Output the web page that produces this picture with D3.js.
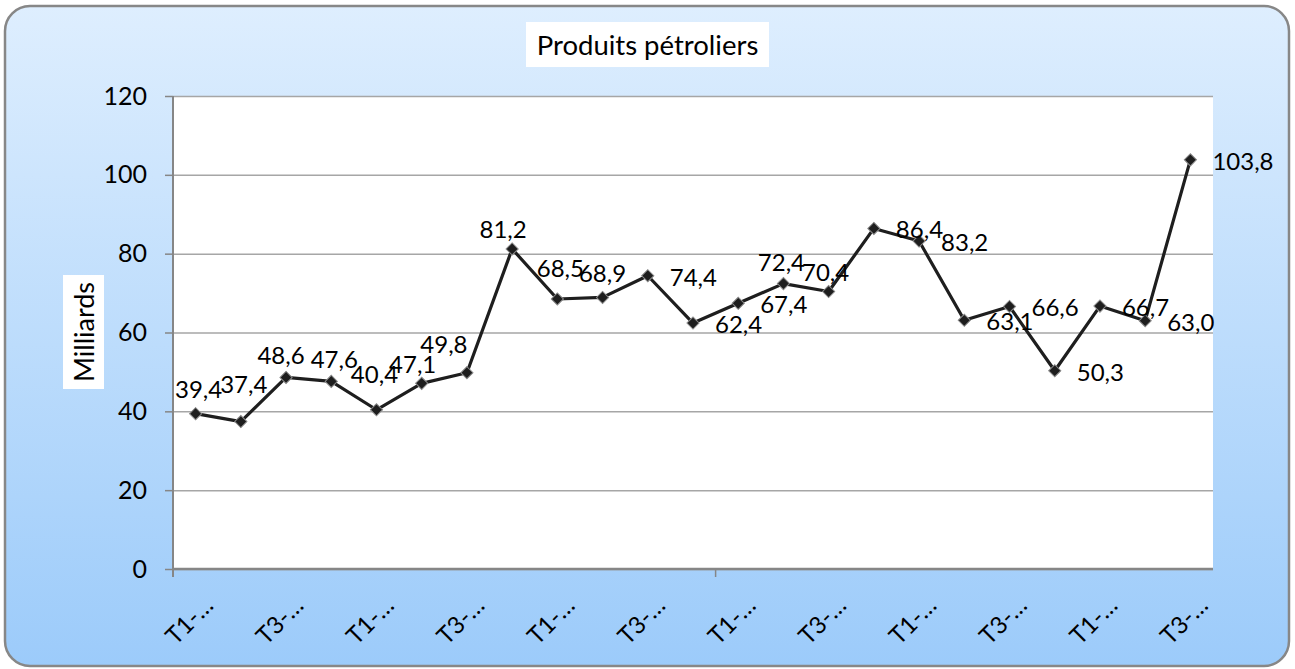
<!DOCTYPE html>
<html>
<head>
<meta charset="utf-8">
<script src="https://cdn.jsdelivr.net/npm/d3@7"></script>
<style>
  body { margin: 0; background: #fff; }
  svg text { font-family: Lato, "Open Sans", sans-serif; fill: #000; }
</style>
</head>
<body>
<svg class="chart"></svg>
<script>
const title = "Produits pétroliers";
const yTitle = "Milliards";

// quarters, years are cut off in the original ("T1-…")
const categories = [
  "T1-…", "T2-…", "T3-…", "T4-…", "T1-…", "T2-…", "T3-…", "T4-…",
  "T1-…", "T2-…", "T3-…", "T4-…", "T1-…", "T2-…", "T3-…", "T4-…",
  "T1-…", "T2-…", "T3-…", "T4-…", "T1-…", "T2-…", "T3-…"
].map((c, i) => c + "#" + i);

const values = [39.4, 37.4, 48.6, 47.6, 40.4, 47.1, 49.8, 81.2, 68.5, 68.9, 74.4, 62.4,
                67.4, 72.4, 70.4, 86.4, 83.2, 63.1, 66.6, 50.3, 66.7, 63.0, 103.8];

const yTicks = [0, 20, 40, 60, 80, 100, 120];

// label placement: [dx, dy] of the label centre from the point, or "r" = right of point
const labelPlace = [[3, -25], [3, -38], [-5, -22], [3, -22], [-2, -36], [-9, -19], [-23, -29],
                    [-9, -20], [3, -31], [0, -24], "r", "r", "r", [-2, -22], [-3, -20],
                    "r", "r", "r", "r", "r", "r", "r", "r"];

const W = 1295, H = 669;
const plot = { left: 173, right: 1213, top: 96, bottom: 569 };

const svg = d3.select('.chart')
  .attr('width', W)
  .attr('height', H);

const grad = svg.append('defs').append('linearGradient')
  .attr('id', 'bg')
  .attr('x1', 0).attr('y1', 0).attr('x2', 0).attr('y2', 1);
grad.append('stop').attr('offset', '0%').attr('stop-color', '#deeefe');
grad.append('stop').attr('offset', '100%').attr('stop-color', '#9ccbfa');

svg.append('rect')
  .attr('x', 5).attr('y', 6)
  .attr('width', 1284).attr('height', 660)
  .attr('rx', 25)
  .attr('fill', 'url(#bg)')
  .attr('stroke', '#878787')
  .attr('stroke-width', 2.5);

svg.append('rect')
  .attr('x', plot.left).attr('y', plot.top)
  .attr('width', plot.right - plot.left)
  .attr('height', plot.bottom - plot.top)
  .attr('fill', '#fff');

const x = d3.scaleBand()
  .domain(categories)
  .range([plot.left, plot.right])
  .padding(0);

const y = d3.scaleLinear()
  .domain([0, 120])
  .range([plot.bottom, plot.top]);

const cx = d => x(d) + x.bandwidth() / 2;

// gridlines
svg.append('g')
  .attr('class', 'grid')
  .attr('transform', 'translate(' + plot.left + ',0)')
  .call(d3.axisLeft(y).tickValues(yTicks).tickSize(-(plot.right - plot.left)).tickFormat(''))
  .call(g => g.select('.domain').remove())
  .call(g => g.selectAll('line').attr('stroke', '#a6a6a6').attr('stroke-width', 1.5));

// y axis
svg.append('g')
  .attr('class', 'y axis')
  .attr('transform', 'translate(' + plot.left + ',0)')
  .call(d3.axisLeft(y).tickValues(yTicks).tickSize(8).tickSizeOuter(0).tickPadding(18))
  .call(g => g.select('.domain').attr('stroke', '#868686').attr('stroke-width', 2)
    .attr('d', 'M0,' + plot.top + 'V' + (plot.bottom + 8)))
  .call(g => g.selectAll('line').attr('stroke', '#868686').attr('stroke-width', 1.5))
  .call(g => g.selectAll('text').attr('font-size', 25).attr('font-family', 'Lato').attr('fill', '#000'));

// x axis
const xAxis = svg.append('g')
  .attr('class', 'x axis')
  .attr('transform', 'translate(0,' + plot.bottom + ')')
  .call(d3.axisBottom(x)
    .tickValues(categories.filter((c, i) => i % 2 === 0))
    .tickSize(0)
    .tickFormat(d => d.split('#')[0]));

xAxis.select('.domain')
  .attr('stroke', '#868686')
  .attr('stroke-width', 2.5)
  .attr('d', 'M' + plot.left + ',0H' + plot.right);

xAxis.selectAll('text')
  .attr('font-size', 24)
  .attr('font-family', 'Lato')
  .attr('fill', '#000')
  .attr('x', 0).attr('y', 0).attr('dy', 0)
  .attr('text-anchor', 'end')
  .attr('transform', 'translate(19,38) rotate(-45)');

xAxis.selectAll('.tickmark')
  .data(categories.filter((c, i) => i % 12 === 0).slice(1))
  .enter().append('line')
    .attr('class', 'tickmark')
    .attr('x1', d => x(d)).attr('x2', d => x(d))
    .attr('y1', 0).attr('y2', 8)
    .attr('stroke', '#868686')
    .attr('stroke-width', 1.5);

// series line
const line = d3.line()
  .x((d, i) => cx(categories[i]))
  .y(d => y(d));

svg.append('path')
  .datum(values)
  .attr('fill', 'none')
  .attr('stroke', '#1e1e1e')
  .attr('stroke-width', 3.2)
  .attr('stroke-linejoin', 'round')
  .attr('d', line);

svg.selectAll('.marker')
  .data(values)
  .enter().append('path')
    .attr('class', 'marker')
    .attr('d', d3.symbol(d3.symbolSquare, 74))
    .attr('transform', (d, i) => 'translate(' + cx(categories[i]) + ',' + y(d) + ') rotate(45)')
    .attr('fill', '#1e1e1e')
    .attr('stroke', '#8a8a8a')
    .attr('stroke-width', 1);

// data labels
const fmt = v => d3.format('.1f')(v).replace('.', ',');
svg.selectAll('.label')
  .data(values)
  .enter().append('text')
    .attr('class', 'label')
    .attr('font-size', 24)
    .attr('text-anchor', (d, i) => labelPlace[i] === 'r' ? 'start' : 'middle')
    .attr('x', (d, i) => cx(categories[i]) + (labelPlace[i] === 'r' ? 22 : labelPlace[i][0]))
    .attr('y', (d, i) => y(d) + (labelPlace[i] === 'r' ? 1 : labelPlace[i][1]) + 9)
    .text(fmt);

// title
svg.append('rect')
  .attr('x', 526).attr('y', 22)
  .attr('width', 243).attr('height', 45)
  .attr('fill', '#fff');
svg.append('text')
  .attr('x', 647.5).attr('y', 55)
  .attr('text-anchor', 'middle')
  .attr('font-size', 27.5)
  .text(title);

// y axis title
svg.append('rect')
  .attr('x', 63).attr('y', 275)
  .attr('width', 41).attr('height', 114)
  .attr('fill', '#fff');
svg.append('text')
  .attr('transform', 'translate(94,332) rotate(-90)')
  .attr('text-anchor', 'middle')
  .attr('font-size', 27)
  .text(yTitle);
</script>
</body>
</html>
